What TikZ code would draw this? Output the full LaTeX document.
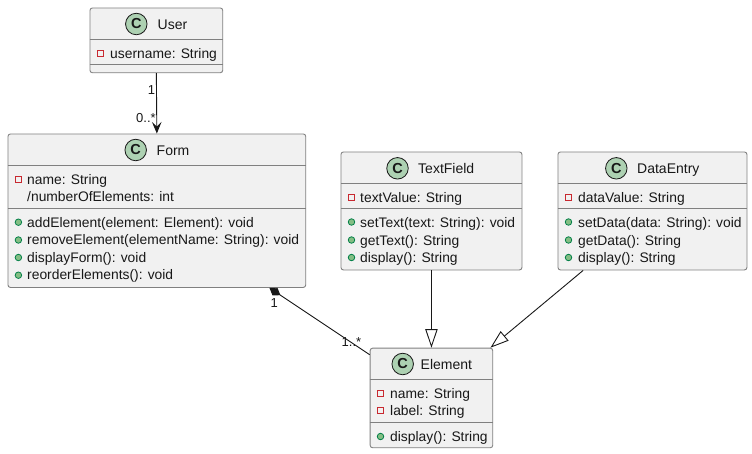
\documentclass[tikz,border=0pt]{standalone}
\usepackage{fontspec}
\setmainfont{Liberation Sans}
\usetikzlibrary{arrows.meta,calc}
\definecolor{boxfill}{HTML}{F1F1F1}
\definecolor{boxline}{HTML}{808080}
\definecolor{ink}{HTML}{181818}
\definecolor{circfill}{HTML}{ADD1B2}
\definecolor{privred}{HTML}{C82930}
\definecolor{pubfill}{HTML}{84BE84}
\definecolor{publine}{HTML}{038048}
\tikzset{
 x=1pt,y=-1pt,
 classbox/.style={draw=boxline,fill=boxfill,rounded corners=2.5pt,line width=0.9pt,inner sep=0pt,anchor=north west},
 divider/.style={draw=boxline,line width=0.9pt},
 circ/.style={circle,draw=ink,fill=circfill,line width=0.8pt,minimum size=21.5pt,inner sep=0pt,font=\fontsize{14.5}{14.5}\bfseries,text=ink},
 title/.style={anchor=base west,inner sep=0pt,font=\fontsize{14}{14}\selectfont,text=ink},
 member/.style={anchor=base west,inner sep=0pt,font=\fontsize{13.85}{14}\selectfont,text=ink},
 mult/.style={anchor=base,inner sep=0pt,font=\fontsize{13}{13}\selectfont,text=ink},
 priv/.style={rectangle,draw=privred,line width=0.8pt,minimum size=6.5pt,inner sep=0pt},
 pub/.style={circle,draw=publine,fill=pubfill,line width=0.8pt,minimum size=6.5pt,inner sep=0pt},
 conn/.style={draw=ink,line width=0.9pt},
}
\newcommand{\cbox}[5]{\node[classbox,minimum width=#4pt,minimum height=#5pt] (#1) at (#2,#3) {};}
\begin{document}
\begin{tikzpicture}
\useasboundingbox (0,0) rectangle (752,453);
% boxes
\cbox{user}{89.5}{7.5}{132.8}{64.8}
\cbox{form}{7.5}{133.5}{297.8}{153.5}
\cbox{textfield}{340.5}{151.5}{181}{118}
\cbox{dataentry}{557.5}{151.5}{189}{118}
\cbox{element}{369.7}{347.7}{122.6}{99.6}
% dividers
\draw[divider] (user.west |- 0,39.5) -- (user.east |- 0,39.5);
\draw[divider] (user.west |- 0,64) -- (user.east |- 0,64);
\draw[divider] (form.west |- 0,165) -- (form.east |- 0,165);
\draw[divider] (form.west |- 0,208.5) -- (form.east |- 0,208.5);
\draw[divider] (textfield.west |- 0,183.5) -- (textfield.east |- 0,183.5);
\draw[divider] (textfield.west |- 0,208.5) -- (textfield.east |- 0,208.5);
\draw[divider] (dataentry.west |- 0,183.5) -- (dataentry.east |- 0,183.5);
\draw[divider] (dataentry.west |- 0,208.5) -- (dataentry.east |- 0,208.5);
\draw[divider] (element.west |- 0,379.3) -- (element.east |- 0,379.3);
\draw[divider] (element.west |- 0,422.7) -- (element.east |- 0,422.7);
% headers
\node[circ] (cu) at (136.3,24) {C};
\node[title] (tu) at (157.5,29) {User};
\node[circ] (cf) at (135.7,150) {C};
\node[title] (tf) at (156.5,155) {Form};
\node[circ] (ct) at (397.5,168.3) {C};
\node[title] (tt) at (418,173) {TextField};
\node[circ] (cd) at (616.3,168.3) {C};
\node[title] (td) at (637,173) {DataEntry};
\node[circ] (ce) at (402.7,364) {C};
\node[title] (te) at (420.5,369) {Element};
% members
\node[priv] (m1) at (100.4,53.4) {}; \node[member] (m1t) at (110,58) {username: String};
\node[priv] (m2) at (18.4,179.6) {}; \node[member] (m2t) at (27,184) {name: String};
\node[member] (m3t) at (27,201) {/numberOfElements: int};
\node[pub] (m4) at (18.4,222.2) {}; \node[member] (m4t) at (27,227) {addElement(element: Element): void};
\node[pub] (m5) at (18.4,240) {}; \node[member] (m5t) at (27,244) {removeElement(elementName: String): void};
\node[pub] (m6) at (18.4,257.5) {}; \node[member] (m6t) at (27,262) {displayForm(): void};
\node[pub] (m7) at (18.4,275.2) {}; \node[member] (m7t) at (27,279) {reorderElements(): void};
\node[priv] (m8) at (351.5,197.5) {}; \node[member] (m8t) at (360,202) {textValue: String};
\node[pub] (m9) at (351.5,222) {}; \node[member] (m9t) at (360,227) {setText(text: String): void};
\node[pub] (m10) at (351.5,240) {}; \node[member] (m10t) at (360,245) {getText(): String};
\node[pub] (m11) at (351.5,257.5) {}; \node[member] (m11t) at (360,262) {display(): String};
\node[priv] (m12) at (568.5,197.5) {}; \node[member] (m12t) at (578,202) {dataValue: String};
\node[pub] (m13) at (568.5,222) {}; \node[member] (m13t) at (578,227) {setData(data: String): void};
\node[pub] (m14) at (568.5,240) {}; \node[member] (m14t) at (578,245) {getData(): String};
\node[pub] (m15) at (568.5,257.5) {}; \node[member] (m15t) at (578,262) {display(): String};
\node[priv] (m16) at (380.5,393.5) {}; \node[member] (m16t) at (390,398) {name: String};
\node[priv] (m17) at (380.5,410.5) {}; \node[member] (m17t) at (390,415) {label: String};
\node[pub] (m18) at (380.5,436.5) {}; \node[member] (m18t) at (390,441) {display(): String};
% connectors
\draw[conn,-{Stealth[length=11.5pt,width=9.5pt,inset=4.5pt]}] (user.south) -- (form.north);
\draw[conn,-{Triangle[open,length=18.5pt,width=12.3pt,fill=white]}] (textfield.south) -- (element.north);
\draw[conn,-{Triangle[open,length=18.5pt,width=12.3pt,fill=white]}] ([xshift=-69.3pt]dataentry.south) -- ([xshift=59pt]element.north);
\draw[conn,{Diamond[length=13.2pt,width=9pt,fill=ink]}-] ([xshift=112.6pt]form.south) -- ([yshift=43.2pt]element.west);
% multiplicities
\node[mult] (l1) at (151.5,94.5) {1};
\node[mult] (l2) at (146,122) {0..*};
\node[mult] (l3) at (274.3,307.7) {1};
\node[mult] (l4) at (351.5,346) {1..*};
\end{tikzpicture}
\end{document}
